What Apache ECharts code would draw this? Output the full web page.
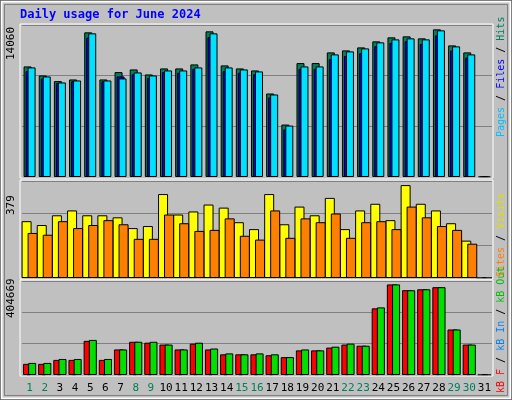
<!DOCTYPE html><html><head><meta charset="utf-8">
<script src="https://cdn.jsdelivr.net/npm/echarts@6/dist/echarts.min.js"></script>
<style>html,body{margin:0;padding:0;background:#fff}#c{width:512px;height:400px}</style></head><body><div id="c"></div>
<script>
const days = ['1','2','3','4','5','6','7','8','9','10','11','12','13','14','15','16','17','18','19','20','21','22','23','24','25','26','27','28','29','30','31'];
const weekendDays = ['1','2','8','9','15','16','22','23','29','30'];
const hits  = [10228,9394,8869,9023,13380,9023,9703,9950,9487,10043,10043,10414,13473,10321,10043,9857,7725,4851,10537,10537,11526,11711,11990,12546,12917,13009,12824,13658,12175,11526,0];
const pages = [9800,9100,8700,8850,12900,8850,9300,9500,9150,9700,9650,10000,12950,9800,9650,9500,7350,4400,10000,10000,10900,11200,11450,12100,12400,12550,12300,13100,11700,11050,0];
const files = [10136,9301,8745,8930,13287,8930,9116,9672,9394,9857,9857,10136,13287,10136,9950,9765,7633,4759,10228,10228,11341,11619,11897,12453,12731,12824,12731,13565,12082,11341,0];
const visits = [222,207,245,264,245,245,237,195,203,328,248,260,287,275,218,191,328,210,279,245,313,191,264,290,226,363,290,264,214,146,0];
const sites  = [176,169,222,195,207,226,210,153,153,248,214,184,188,233,165,150,264,157,233,218,252,157,218,222,191,279,237,203,188,134,0];
const kbF   = [48000,48000,65000,65000,147000,65000,110000,143000,139000,131000,110000,135000,110000,89000,89000,89000,85000,77000,106000,106000,118000,131000,126000,287000,390000,365000,369000,378000,196000,131000,0];
const kbIn  = [900,900,1000,1000,2500,1000,1200,1500,1500,1400,1200,2200,1300,1000,1000,1000,1000,900,2000,2200,1300,2300,2000,2100,2200,2000,2000,1800,2500,1900,0];
const kbOut = [52000,52000,69000,69000,151000,69000,110000,143000,143000,131000,110000,139000,114000,93000,89000,93000,89000,77000,110000,106000,122000,135000,126000,291000,390000,365000,369000,378000,196000,131000,0];
const maxHits = 14060, maxVisits = 379, maxKB = 404669;

const F = 'DejaVu Sans Mono';
const grids = [
  {left:22,right:20,top:25,height:152},
  {left:22,right:20,top:181,height:97},
  {left:22,right:20,top:281,height:94}
];
function xAx(i, show){
  return {type:'category',gridIndex:i,data:days,boundaryGap:true,
    axisLine:{show:false},axisTick:{show:false},
    axisLabel:{show:show,interval:0,fontFamily:F,fontSize:11,margin:8,
      color:(v)=>weekendDays.includes(v)?'#00805C':'#000'}};
}
function yAx(i,max){
  return {type:'value',gridIndex:i,min:0,max:max,interval:max/3,
    axisLine:{show:false},axisTick:{show:false},axisLabel:{show:false},
    splitLine:{show:true,lineStyle:{color:'#808080',width:1}}};
}
function bar(name,data,i,color,z,w){
  return {name,type:'bar',data,xAxisIndex:i,yAxisIndex:i,barWidth:w||8,barGap:'-75%',z:z,
    itemStyle:{color,borderColor:'#000',borderWidth:1},animation:false};
}
function panelFrame(g){
  return {type:'rect',shape:{x:g.left-2,y:g.top-1,width:512-g.left-g.right+3,height:g.height+2},
    style:{fill:'none',stroke:'#fff',lineWidth:1},z:100};
}
const RF = '10px '+F;
const chart = echarts.init(document.getElementById('c'));
chart.setOption({
  animation:false,
  backgroundColor:'#C0C0C0',
  grid:grids,
  xAxis:[xAx(0,false),xAx(1,false),xAx(2,true)],
  yAxis:[yAx(0,maxHits),yAx(1,maxVisits),yAx(2,maxKB)],
  series:[
    bar('Hits',hits,0,'#00805C',2),
    bar('Pages',pages,0,'#0000FF',3),
    bar('Files',files,0,'#00E0FF',4),
    {...bar('Visits',visits,1,'#FFFF00',2,10),barGap:'-40%'},
    {...bar('Sites',sites,1,'#FF8000',3,10),barGap:'-40%'},
    {...bar('kB F',kbF,2,'#FF0000',2,10),barGap:'-60%'},
    {...bar('kB In',kbIn,2,'#0080FF',3,3),barGap:'-60%'},
    {...bar('kB Out',kbOut,2,'#00E000',4,8),barGap:'-60%'}
  ],
  graphic:[
    {type:'rect',shape:{x:0.5,y:0.5,width:511,height:399},style:{fill:'none',stroke:'#000',lineWidth:1},z:90},
    {type:'rect',shape:{x:1.5,y:1.5,width:509,height:397},style:{fill:'none',stroke:'#fff',lineWidth:2},z:90},
    {type:'rect',shape:{x:4.5,y:4.5,width:503,height:391},style:{fill:'none',stroke:'#808080',lineWidth:1},z:90},
    {type:'text',x:20,y:9,style:{text:'Daily usage for June 2024',font:'bold 12px '+F,fill:'#0000FF'},z:100},
    panelFrame(grids[0]),panelFrame(grids[1]),panelFrame(grids[2]),
    {type:'text',x:11,y:60,rotation:Math.PI/2,style:{text:'14060',font:'11px '+F,fill:'#000',align:'left',verticalAlign:'middle'},z:100},
    {type:'text',x:11,y:215,rotation:Math.PI/2,style:{text:'379',font:'11px '+F,fill:'#000',align:'left',verticalAlign:'middle'},z:100},
    {type:'text',x:11,y:318,rotation:Math.PI/2,style:{text:'404669',font:'11px '+F,fill:'#000',align:'left',verticalAlign:'middle'},z:100},
    {type:'text',x:501,y:137,rotation:Math.PI/2,style:{
      text:'{a|Pages} {s|/} {b|Files} {s|/} {c|Hits}',font:RF,align:'left',verticalAlign:'middle',
      rich:{a:{fill:'#00C0FF',font:RF},b:{fill:'#0000FF',font:RF},c:{fill:'#00805C',font:RF},s:{fill:'#000',font:RF}}},z:100},
    {type:'text',x:501,y:277,rotation:Math.PI/2,style:{
      text:'{b|Sites} {s|/} {a|Visits}',font:RF,align:'left',verticalAlign:'middle',
      rich:{a:{fill:'#E0E000',font:RF},b:{fill:'#FF8000',font:RF},s:{fill:'#000',font:RF}}},z:100},
    {type:'text',x:501,y:393,rotation:Math.PI/2,style:{
      text:'{a|kB F} {s|/} {b|kB In} {s|/} {c|kB Out}',font:RF,align:'left',verticalAlign:'middle',
      rich:{a:{fill:'#FF0000',font:RF},b:{fill:'#0080FF',font:RF},c:{fill:'#00C000',font:RF},s:{fill:'#000',font:RF}}},z:100}
  ]
});
</script></body></html>
